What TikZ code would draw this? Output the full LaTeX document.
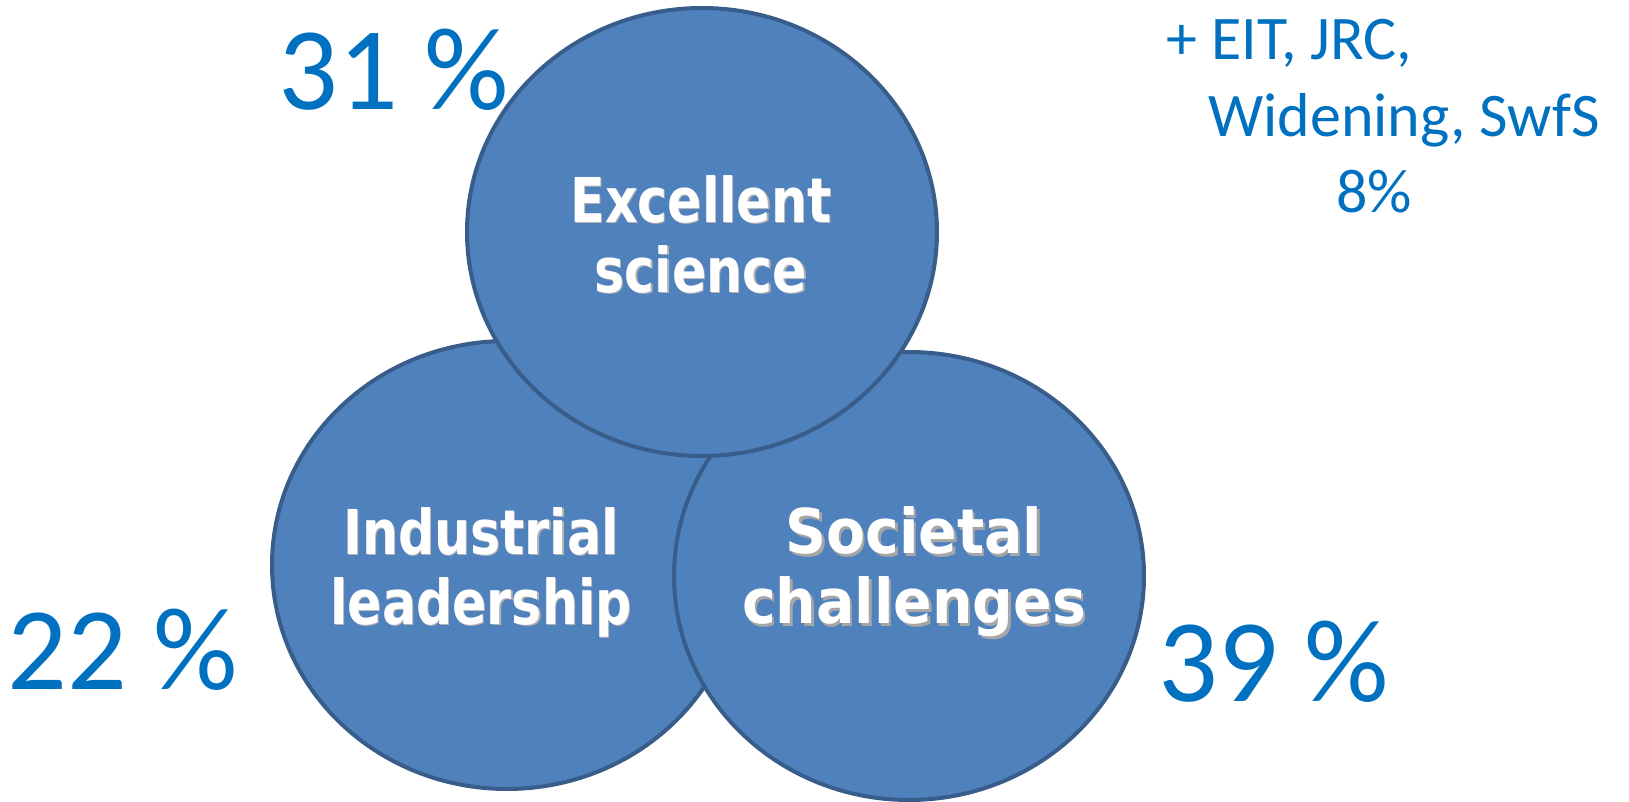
\documentclass[tikz,border=0pt]{standalone}
\usepackage{fontspec}
\usepackage{xcolor}
\usepackage{tikz}
\usetikzlibrary{shapes.geometric,positioning}
\definecolor{discfill}{HTML}{4F81BD}
\definecolor{discline}{HTML}{385D8A}
\definecolor{pctblue}{HTML}{0070C0}
\newfontfamily\calfont{Carlito}
\newfontfamily\tahfont[FakeStretch=0.82]{DejaVu Sans Bold}
\newfontfamily\verfont[FakeStretch=0.92]{DejaVu Sans Bold}
\newcommand\glowtxt[1]{\makebox[0pt][l]{\hspace{0.6pt}\raisebox{-0.6pt}{\textcolor{black!30}{#1}}}#1}
\newcommand\shadetxt[1]{\makebox[0pt][l]{\hspace{1.2pt}\raisebox{-1.2pt}{\textcolor{black!35}{#1}}}#1}
\begin{document}
\begin{tikzpicture}[x=0.5pt,y=-0.5pt,
  disc/.style={ellipse,draw=discline,fill=discfill,line width=2pt,
    minimum width=235pt,minimum height=224pt,inner sep=0pt},
  disctext/.style={text=white,align=center,inner sep=0pt,
    font=\tahfont\fontsize{30.9}{35}\selectfont},
  pct/.style={text=pctblue,anchor=base west,inner sep=0pt,
    font=\calfont\fontsize{59}{70}\selectfont},
  extra/.style={text=pctblue,anchor=base west,inner sep=0pt,
    font=\calfont\fontsize{31}{38}\selectfont}]
\useasboundingbox (0,0) rectangle (1629,802);
\node [disc] (indus) at (507,565) {};
\node [disc] (soc) at (909,576) {};
\node [disc] (excel) at (702,232) {};
\node [disctext] (exceltxt) at (701,235) {\glowtxt{Excellent}\\\glowtxt{science}};
\node [disctext] (industxt) at (481,573) {\glowtxt{Industrial}\\\glowtxt{leadership}};
\node [disctext,font=\verfont\fontsize{30.9}{35}\selectfont] (soctxt) at (914,573)
  {\shadetxt{Societal}\\\shadetxt{challenges}};
\node [pct] (excelpct) at (278,110) {31 \%};
\node [pct] (induspct) at (7,689) {22 \%};
\node [pct] (socpct) at (1158,701) {39 \%};
\node [extra] (extraa) at (1166,60) {+ EIT, JRC,};
\node [extra] (extrab) at (1208,137) {Widening, SwfS};
\node [extra] (extrac) at (1336,213) {8\%};
\end{tikzpicture}
\end{document}
